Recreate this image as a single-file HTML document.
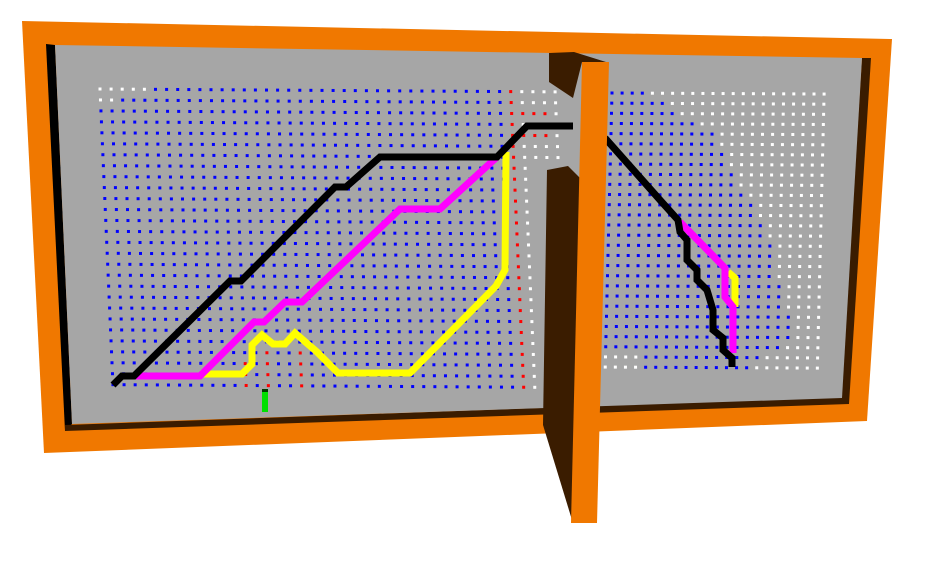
<!DOCTYPE html>
<html><head><meta charset="utf-8"><style>
html,body{margin:0;padding:0;background:#fff;width:929px;height:586px;overflow:hidden}
svg{display:block}
</style></head><body>
<svg id="scene" width="929" height="586" viewBox="0 0 929 586" xmlns="http://www.w3.org/2000/svg">
  <polygon points="22,21 892,39 867,421 44,453" fill="#f07800"/>
  <polygon points="46,44 55,45 72,424 65,431" fill="#000"/>
  <polygon points="862,58 871,58 849,404 840,404" fill="#3a1c00"/>
  <polygon points="65,425 849,397 849,404 65,431" fill="#3a1c00"/>
  <polygon points="55,45 862,58 842,398 72,424" fill="#a6a6a6"/>
  <g id="dots"></g>
  <g id="paths"></g>
  <rect x="262" y="390" width="6" height="22" fill="#00e000"/>
  <rect x="262" y="389" width="6" height="3" fill="#003a00"/>
  <polygon points="549,53 574,52 606,62 582,62 573,98 549,82" fill="#3a1c00"/>
  <polygon points="547,170 568,166 582,180 572,520 543,425" fill="#3a1c00"/>
  <polygon points="582,62 609,62 597,523 571,523" fill="#f07800"/>
</svg>
<script>
const leftRows = 28, leftCols = 38;
const rightRows = 28, rightCols = 22;
const leftWhite = [[0,0],[0,1],[0,2],[0,3],[0,4],[1,0],[1,1]];
const leftRed = [[27,12],[27,14],[26,14],[25,14],[24,14],[25,17],[26,17],[27,17],[24,17],[25,12],[26,12]];
const rightBlueLimit = [652,667,682,697,712,718,723,729,734,740,745,751,756,762,767,770,773,776,779,782,785,788,790,790,790,780,765,750];
const blackLeft = [[113,385],[122,376],[134,376],[230,281],[241,281],[335,187],[346,187],[380,157],[497,157],[527,126],[573,126]];
const magentaLeft = [[134,376],[200,376],[254,322],[264,322],[285,302],[302,302],[400,209],[440,209],[497,157]];
const yellowLeft = [[200,374],[242,374],[252,364],[252,345],[262,335],[273,344],[285,344],[295,333],[317,352],[338,373],[410,373],[496,286],[505,270],[506,152]];
const blackRight = [[605,138],[660,200],[678,220],[680,232],[687,240],[687,260],[697,270],[697,280],[707,290],[713,310],[713,330],[723,338],[723,350],[732,358],[732,367]];
const magentaRight = [[680,222],[725,268],[725,297],[733,307],[733,353]];
const yellowRight = [[728,272],[735,278],[735,307]];

const NS = "http://www.w3.org/2000/svg";
const dots = document.getElementById('dots');
function dot(x,y,c){
  const r=document.createElementNS(NS,'rect');
  r.setAttribute('x',x-1.5);r.setAttribute('y',y-1.5);
  r.setAttribute('width',3);r.setAttribute('height',3);r.setAttribute('fill',c);
  
  
  dots.appendChild(r);
}
function has(arr,r,c){return arr.some(p=>p[0]===r&&p[1]===c);}
for(let r=0;r<leftRows;r++){
  const y0=89+r*10.95, x0=100+r*0.48;
  for(let c=0;c<leftCols+4;c++){
    const x=x0+c*11.1, y=y0+c*0.07;
    if(c>=leftCols+1 && y>165 ) continue;
    let col='#0000ff';
    if(has(leftWhite,r,c)) col='#ffffff';
    if(has(leftRed,r,c)) col='#ff0000';
    if(c===leftCols-1) col='#ff0000';
    if(c>=leftCols) col = (r===2||r===4)&&c<leftCols+3 ? '#ff0000' : '#ffffff';
    dot(x,y,col);
  }
}
for(let r=0;r<rightRows;r++){
  const y0=93+r*10.15, x0=612-r*0.25;
  const lim = rightBlueLimit[r];
  for(let c=0;c<rightCols;c++){
    const x=x0+c*10.1, y=y0+c*0.05;
    if(r>=26 && x<645){dot(x,y,'#ffffff');continue;}
    dot(x,y, x<=lim?'#0000ff':'#ffffff');
  }
}
const paths=document.getElementById('paths');
function line(pts,color,w,name){
  const p=document.createElementNS(NS,'polyline');
  p.setAttribute('points',pts.map(q=>q.join(',')).join(' '));
  p.setAttribute('fill','none');p.setAttribute('stroke',color);
  p.setAttribute('stroke-width',w);p.setAttribute('stroke-linejoin','miter');
  
  
  paths.appendChild(p);
}
line(yellowLeft,'#ffff00',7,'yellow-path-left');
line(magentaLeft,'#ff00ff',7,'magenta-path-left');
line(blackLeft,'#000000',7,'black-path-left');
line(yellowRight,'#ffff00',7,'yellow-path-right');
line(magentaRight,'#ff00ff',7,'magenta-path-right');
line(blackRight,'#000000',7,'black-path-right');
</script>
</body></html>
